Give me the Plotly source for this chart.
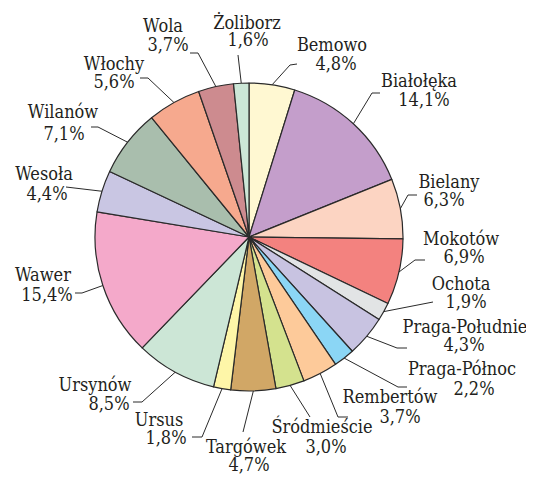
import math
import plotly.graph_objects as go

# ---- data ----
districts = ["Bemowo", "Białołęka", "Bielany", "Mokotów", "Ochota", "Praga-Południe",
             "Praga-Północ", "Rembertów", "Śródmieście", "Targówek", "Ursus", "Ursynów",
             "Wawer", "Wesoła", "Wilanów", "Włochy", "Wola", "Żoliborz"]
shares = [4.8, 14.1, 6.3, 6.9, 1.9, 4.3, 2.2, 3.7, 3.0, 4.7, 1.8, 8.5,
          15.4, 4.4, 7.1, 5.6, 3.7, 1.6]
colors = ["#FFF8D2", "#C49ECB", "#FCD4C2", "#F3827F", "#E2E4E5", "#C8C3E1",
          "#8BD6F5", "#FDCA9A", "#D4E28E", "#D1A766", "#FEF6A8", "#CCE6D6",
          "#F4A9CA", "#C9C6E3", "#A9BEAD", "#F6A98E", "#CD8B8F", "#CCE7D7"]

# ---- layout (pixels, measured on the screen; page body has an 8px margin) ----
W, H = 534, 480
PAD = 8
CX, CY, R = 249, 237, 154
FONT = "'DejaVu Serif Condensed', 'DejaVu Serif'"
FS = 18

# label placement: name (x, baseline), pct (x, baseline), elbow, end
label_pos = {
    "Bemowo":         ((332, 53), (336, 72), (290, 65), (297, 64)),
    "Białołęka":      ((419, 89), (424, 108), (372, 93), (380, 93)),
    "Bielany":        ((449, 190), (444, 208), (408, 195), (417, 195)),
    "Mokotów":        ((461, 247), (464, 265), (415, 260), (425, 260)),
    "Ochota":         ((461, 292), (466, 310), None, (433, 302)),
    "Praga-Południe": ((465, 335), (464, 353), (397, 348), (407, 348)),
    "Praga-Północ":   ((462, 377), (474, 397), (398, 387), (407, 387)),
    "Rembertów":      ((390, 405), (400, 425), (338, 417), (348, 417)),
    "Śródmieście":    ((322, 435), (326, 455), None, (310, 417)),
    "Targówek":       ((246, 455), (249, 473), None, (243, 432)),
    "Ursus":          ((159, 428), (166, 446), (202, 437), (192, 437)),
    "Ursynów":        ((95, 393), (109, 412), (142, 402), (133, 402)),
    "Wawer":          ((43, 283), (47, 303), (82, 293), (75, 293)),
    "Wesoła":         ((44, 182), (47, 202), None, (66, 187)),
    "Wilanów":        ((63, 120), (64, 142), (98, 127), (91, 127)),
    "Włochy":         ((114, 72), (114, 90), (148, 78), (140, 78)),
    "Wola":           ((163, 34), (168, 53), (198, 53), (190, 53)),
    "Żoliborz":       ((247, 31), (248, 48), None, (238, 55)),
}

fig = go.Figure()

cxf, cyf = CX - PAD, CY - PAD
fig.add_trace(go.Pie(
    labels=districts, values=shares, sort=False, direction="clockwise", rotation=0,
    marker=dict(colors=colors, line=dict(color="#2a2a2a", width=1.2)),
    textinfo="none", hoverinfo="label+percent", showlegend=False,
    domain=dict(x=[(cxf - R) / W, (cxf + R) / W], y=[1 - (cyf + R) / H, 1 - (cyf - R) / H]),
))

# leader lines: start at slice mid-angle on the pie edge (from data)
total = sum(shares)
lx, ly = [], []
cum = 0.0
for name, v in zip(districts, shares):
    mid = (cum + v / 2) / total * 2 * math.pi
    cum += v
    ex = CX + R * math.sin(mid)
    ey = CY - R * math.cos(mid)
    _, _, elbow, end = label_pos[name]
    lx.append(ex - PAD); ly.append(ey - PAD)
    if elbow:
        lx.append(elbow[0] - PAD); ly.append(elbow[1] - PAD)
    lx.append(end[0] - PAD); ly.append(end[1] - PAD)
    lx.append(None); ly.append(None)

fig.add_trace(go.Scatter(x=lx, y=ly, mode="lines", line=dict(color="#2a2a2a", width=1),
                         hoverinfo="skip", showlegend=False))

# labels
tx, ty, tt = [], [], []
OFF = 0.35 * FS
for name, v in zip(districts, shares):
    (nx, nb), (px, pb), _, _ = label_pos[name]
    tx += [nx - PAD, px - PAD]
    ty += [nb - OFF - PAD, pb - OFF - PAD]
    tt += [name, f"{v:.1f}".replace(".", ",") + "%"]

fig.add_trace(go.Scatter(x=tx, y=ty, mode="text", text=tt, textposition="middle center",
                         textfont=dict(family=FONT, size=FS, color="#231f20"),
                         hoverinfo="skip", showlegend=False))

fig.update_layout(
    width=W, height=H, margin=dict(l=0, r=0, t=0, b=0),
    font=dict(family=FONT),
    paper_bgcolor="white", plot_bgcolor="rgba(0,0,0,0)",
    xaxis=dict(range=[0, W], visible=False, fixedrange=True),
    yaxis=dict(range=[H, 0], visible=False, fixedrange=True),
)

fig.write_html("out.html")
